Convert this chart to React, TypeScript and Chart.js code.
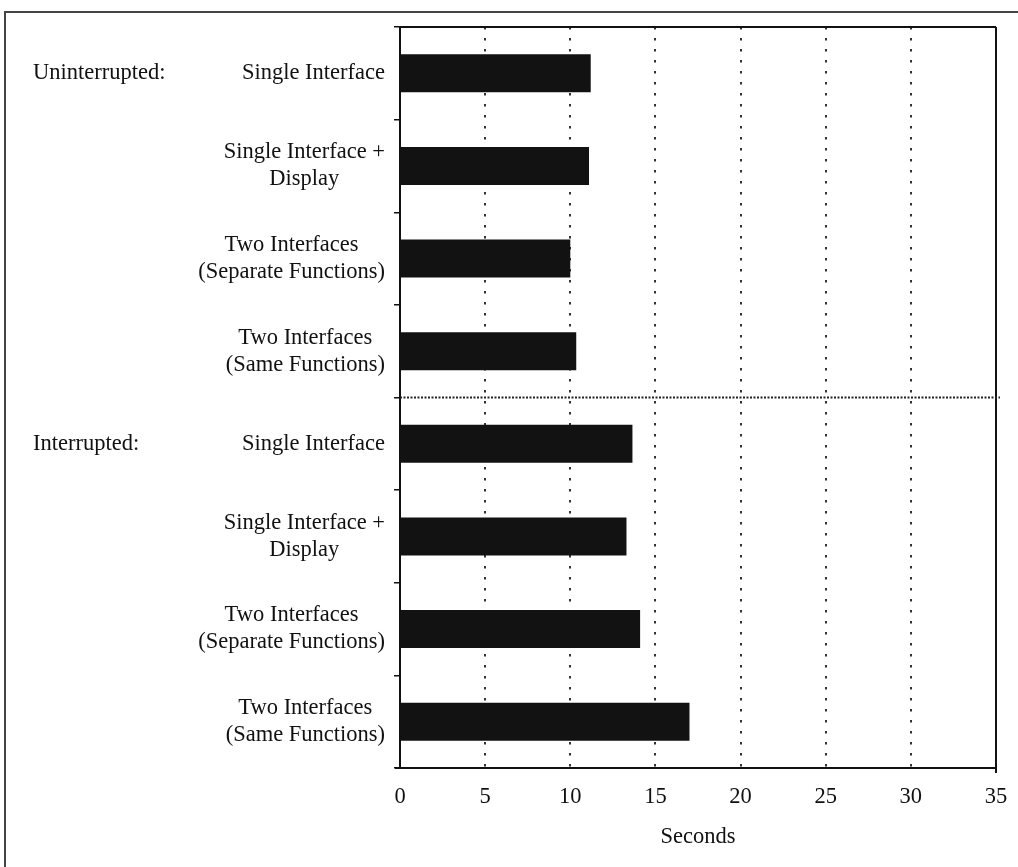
import React, { useEffect, useRef } from "react";
import { Chart, registerables } from "chart.js";

Chart.register(...registerables);

const categoryLines: string[][] = [
  ["Single Interface"],
  ["Single Interface +", "Display"],
  ["Two Interfaces", "(Separate Functions)"],
  ["Two Interfaces", "(Same Functions)"],
  ["Single Interface"],
  ["Single Interface +", "Display"],
  ["Two Interfaces", "(Separate Functions)"],
  ["Two Interfaces", "(Same Functions)"],
];
const seconds: number[] = [11.2, 11.1, 10.0, 10.35, 13.65, 13.3, 14.1, 17.0];
const groupLabels: string[] = ["Uninterrupted:", "Interrupted:"];
const groupStartIndex: number[] = [0, 4];
const xTicks: number[] = [0, 5, 10, 15, 20, 25, 30, 35];
const xTitle = "Seconds";

const FONT = "'Liberation Serif', 'Times New Roman', serif";
const FS = 22.5;

const overlay = {
  id: "overlay",
  afterDatasetsDraw(chart: any) {
    const { ctx, chartArea } = chart;
    const ys = chart.scales.y;
    ctx.save();
    ctx.setLineDash([]);
    // plot frame
    ctx.strokeStyle = "#111";
    ctx.lineWidth = 2;
    ctx.beginPath();
    ctx.moveTo(chartArea.left - 5, chartArea.bottom);
    ctx.lineTo(chartArea.right, chartArea.bottom);
    ctx.moveTo(chartArea.left, chartArea.top);
    ctx.lineTo(chartArea.right, chartArea.top);
    ctx.moveTo(chartArea.right, chartArea.top);
    ctx.lineTo(chartArea.right, chartArea.bottom + 5);
    ctx.stroke();
    // separator between groups
    const sepY = (ys.getPixelForValue(3) + ys.getPixelForValue(4)) / 2;
    ctx.strokeStyle = "#222";
    ctx.lineWidth = 2;
    ctx.setLineDash([2, 1.5]);
    ctx.beginPath();
    ctx.moveTo(chartArea.left, sepY);
    ctx.lineTo(chartArea.right + 4, sepY);
    ctx.stroke();
    ctx.setLineDash([]);
    // outer frame
    ctx.strokeStyle = "#444";
    ctx.lineWidth = 2;
    ctx.beginPath();
    ctx.moveTo(5, chart.height);
    ctx.lineTo(5, 12);
    ctx.lineTo(chart.width, 12);
    ctx.stroke();
    ctx.restore();
  },
  afterDraw(chart: any) {
    const { ctx, chartArea } = chart;
    const ys = chart.scales.y;
    ctx.save();
    ctx.fillStyle = "#111";
    ctx.font = `${FS}px ${FONT}`;
    ctx.textBaseline = "middle";
    ctx.textAlign = "center";
    const right = chartArea.left - 15;
    const lh = 27;
    categoryLines.forEach((lines, i) => {
      const cy = ys.getPixelForValue(i);
      const w = Math.max(...lines.map((l) => ctx.measureText(l).width));
      const cx = right - w / 2;
      const y0 = cy - ((lines.length - 1) * lh) / 2;
      lines.forEach((l, k) => ctx.fillText(l, cx, y0 + k * lh));
    });
    ctx.textAlign = "left";
    groupLabels.forEach((g, k) => {
      const cy = ys.getPixelForValue(groupStartIndex[k]);
      ctx.fillText(g, 33, cy);
    });
    ctx.restore();
  },
};

export default function App() {
  const ref = useRef<HTMLCanvasElement | null>(null);
  useEffect(() => {
    if (!ref.current) return;
    const chart = new Chart(ref.current, {
      type: "bar",
      data: {
        labels: categoryLines.map((l) => l.join(" ")),
        datasets: [
          {
            data: seconds,
            backgroundColor: "#121212",
            borderWidth: 0,
            barPercentage: 0.41,
            categoryPercentage: 1,
          },
        ],
      },
      options: {
        indexAxis: "y",
        animation: false,
        responsive: false,
        devicePixelRatio: 1,
        layout: { padding: { top: 27, right: 22, left: 0, bottom: 0 } },
        plugins: { legend: { display: false }, tooltip: { enabled: false } },
        scales: {
          x: {
            type: "linear",
            min: xTicks[0],
            max: xTicks[xTicks.length - 1],
            afterBuildTicks: (s: any) => {
              s.ticks = xTicks.map((v) => ({ value: v }));
            },
            afterFit: (s: any) => {
              s.height = 99;
              s.paddingLeft = 0;
              s.paddingRight = 0;
            },
            ticks: {
              color: "#111",
              font: { family: FONT, size: FS },
              padding: 16,
              maxRotation: 0,
            },
            grid: {
              drawTicks: false,
              lineWidth: 2,
              color: (c: any) =>
                c.tick && (c.tick.value === 0 || c.tick.value === 35)
                  ? "rgba(0,0,0,0)"
                  : "#333",
            },
            border: { display: false, dash: [2.5, 8.5] },
            title: {
              display: true,
              text: xTitle,
              color: "#111",
              font: { family: FONT, size: FS },
              padding: { top: 0, bottom: 16 },
            },
          } as any,
          y: {
            type: "category",
            afterFit: (s: any) => {
              s.width = 400;
            },
            ticks: { display: false },
            grid: {
              offset: true,
              drawOnChartArea: false,
              drawTicks: true,
              tickLength: 6,
              color: "#111",
              lineWidth: 1.5,
            },
            border: { display: true, color: "#111", width: 2 },
          } as any,
        },
      },
      plugins: [overlay],
    });
    return () => chart.destroy();
  }, []);
  return (
    <div style={{ position: "fixed", left: 0, top: 0, width: 1018, height: 867, background: "#fff" }}>
      <canvas ref={ref} width={1018} height={867} style={{ width: 1018, height: 867, display: "block" }} />
    </div>
  );
}
